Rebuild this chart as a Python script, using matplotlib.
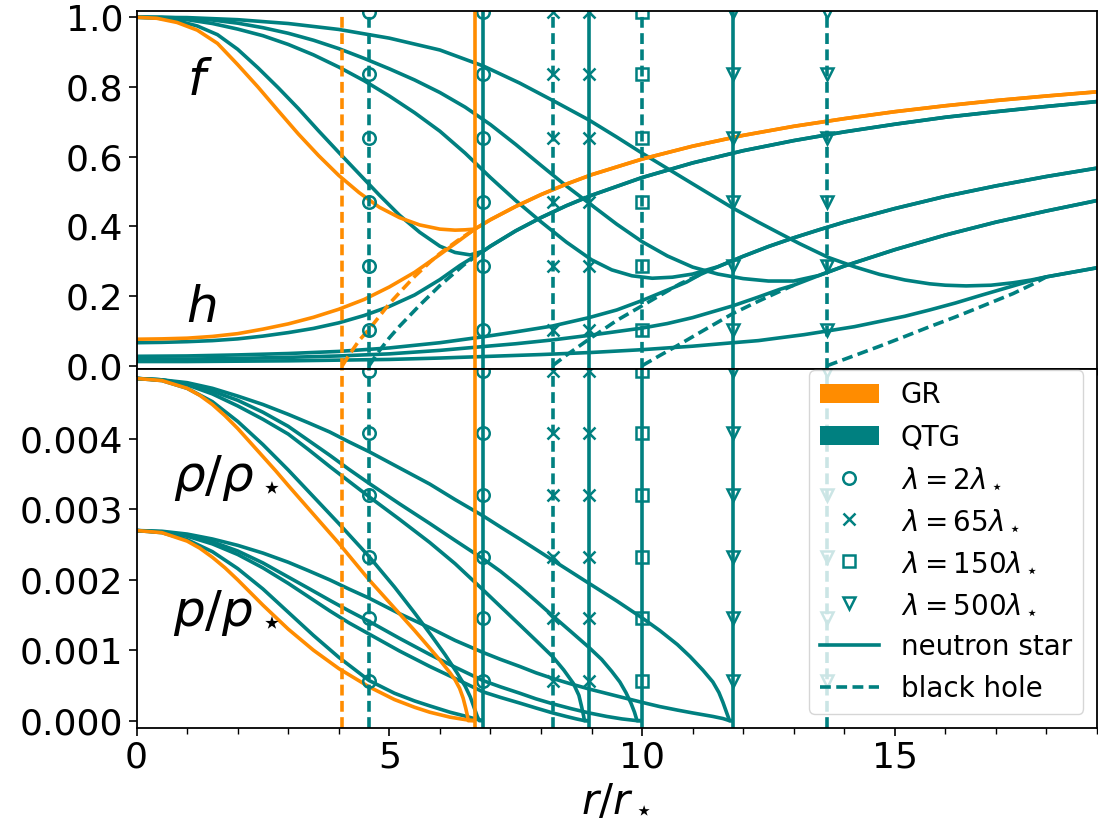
import matplotlib
matplotlib.use("Agg")
import matplotlib.pyplot as plt
from matplotlib.lines import Line2D
from matplotlib.patches import Patch
from matplotlib.ticker import MultipleLocator, FixedLocator

GR_COLOR = "#ff8c00"
QTG_COLOR = "#008080"
LW = 2.6
DASH = (0, (3.0, 1.5))

# ---------------- radii (in units of r_star) ----------------
gr_ns_radius = 6.69
gr_bh_radius = 4.07
qtg_lambda = ["2", "65", "150", "500"]
qtg_markers = ["o", "x", "s", "v"]
qtg_ns_radius = [6.86, 8.95, 10.0, 11.80]
qtg_bh_radius = [4.60, 8.23, 10.0, 13.66]

# ---------------- metric functions f, h (upper panel) ----------------
# GR
gr_f_r = [0, 0.4, 0.8, 1.2, 1.6, 2.0, 2.4, 2.8, 3.2, 3.6, 4.0, 4.4, 4.8, 5.2, 5.6, 6.0, 6.3, 6.5]
gr_f = [1.000, 0.997, 0.985, 0.963, 0.925, 0.864, 0.800, 0.732, 0.665, 0.603, 0.546, 0.497,
        0.455, 0.425, 0.404, 0.392, 0.389, 0.390]
gr_h_r = [0, 0.5, 1.0, 1.5, 2.0, 2.5, 3.0, 3.5, 4.0, 4.5, 5.0, 5.5, 6.0, 6.4]
gr_h = [0.076, 0.077, 0.079, 0.084, 0.092, 0.105, 0.120, 0.139, 0.162, 0.190, 0.226, 0.268, 0.319, 0.361]
gr_out_r = [6.69, 7.0, 7.5, 8.0, 8.5, 9.0, 10.0, 11.0, 12.0, 13.0, 14.0, 15.0, 16.0, 17.0, 18.0, 19.0]
gr_out = [0.392, 0.419, 0.457, 0.491, 0.521, 0.548, 0.593, 0.630, 0.661, 0.687, 0.709, 0.729,
          0.746, 0.761, 0.774, 0.786]
gr_bh_r = [4.07, 4.2, 4.4, 4.62, 5.0, 5.28, 5.5, 5.81, 6.0, 6.34, 6.69]
gr_bh = [0.0, 0.030, 0.072, 0.108, 0.178, 0.222, 0.256, 0.298, 0.322, 0.358, 0.392]

# QTG, lambda = 2
q2_f_r = [0, 0.4, 0.8, 1.2, 1.6, 2.0, 2.4, 2.8, 3.2, 3.6, 4.0, 4.4, 4.8, 5.2, 5.6, 6.0, 6.3, 6.6]
q2_f = [1.000, 0.998, 0.990, 0.975, 0.950, 0.908, 0.855, 0.798, 0.738, 0.674, 0.612, 0.551,
        0.490, 0.432, 0.383, 0.343, 0.325, 0.318]
q2_h_r = [0, 0.5, 1.0, 1.5, 2.0, 2.5, 3.0, 3.5, 4.0, 4.5, 5.0, 5.5, 6.0, 6.4]
q2_h = [0.066, 0.067, 0.069, 0.072, 0.077, 0.085, 0.095, 0.107, 0.123, 0.144, 0.170, 0.203, 0.247, 0.288]
q2_out_r = [6.86, 7.0, 7.5, 8.0, 8.5, 9.0, 10.0, 11.0, 12.0, 13.0, 14.0, 15.0, 16.0, 17.0, 18.0, 19.0]
q2_out = [0.329, 0.343, 0.387, 0.425, 0.459, 0.489, 0.540, 0.582, 0.617, 0.646, 0.671, 0.693,
          0.713, 0.729, 0.744, 0.758]
q2_bh_r = [4.60, 4.75, 5.0, 5.2, 5.61, 6.0, 6.47, 6.86]
q2_bh = [0.0, 0.033, 0.080, 0.113, 0.175, 0.230, 0.289, 0.329]

# QTG, lambda = 65
q65_f_r = [0, 0.5, 1.0, 1.5, 2.0, 2.5, 3.0, 3.5, 4.0, 4.5, 5.0, 5.5, 6.0, 6.5, 7.0, 7.5, 8.0,
           8.5, 9.0, 9.4, 9.8, 10.2, 10.6, 11.0, 11.4]
q65_f = [1.000, 0.999, 0.993, 0.982, 0.966, 0.947, 0.922, 0.892, 0.857, 0.818, 0.774, 0.726,
         0.673, 0.610, 0.540, 0.474, 0.413, 0.355, 0.304, 0.275, 0.258, 0.251, 0.254, 0.263, 0.280]
q65_h_r = [0, 1, 2, 3, 4, 5, 6, 6.86, 7.5, 8.23, 8.95, 9.5, 10.0, 10.5, 10.88]
q65_h = [0.027, 0.028, 0.031, 0.035, 0.041, 0.051, 0.066, 0.083, 0.097, 0.114, 0.138, 0.160,
         0.187, 0.217, 0.240]
q65_out_r = [11.14, 11.5, 12.0, 12.5, 13.0, 13.5, 14.0, 15.0, 16.0, 17.0, 18.0, 19.0]
q65_out = [0.261, 0.284, 0.314, 0.342, 0.367, 0.390, 0.412, 0.451, 0.486, 0.516, 0.543, 0.567]
q65_bh_r = [8.23, 8.5, 8.95, 9.5, 10.0, 10.75, 11.14]
q65_bh = [0.0, 0.030, 0.076, 0.130, 0.172, 0.235, 0.261]

# QTG, lambda = 150
q150_f_r = [0, 0.5, 1.0, 1.5, 2.0, 2.5, 3.0, 3.5, 4.0, 4.5, 5.0, 5.5, 6.0, 6.5, 7.0, 7.5, 8.0,
            8.5, 9.0, 9.5, 10.0, 10.5, 11.0, 11.5, 12.0, 12.5, 13.0]
q150_f = [1.000, 1.000, 0.997, 0.992, 0.983, 0.970, 0.954, 0.934, 0.910, 0.882, 0.852, 0.820,
          0.784, 0.742, 0.692, 0.635, 0.575, 0.516, 0.461, 0.406, 0.356, 0.315, 0.283, 0.263,
          0.250, 0.243, 0.243]
q150_h_r = [0, 1, 2, 3, 4, 5, 6, 6.86, 7.5, 8.23, 9.0, 10.0, 10.5, 11.0, 11.8, 12.3, 12.72]
q150_h = [0.019, 0.019, 0.021, 0.024, 0.028, 0.034, 0.044, 0.055, 0.063, 0.074, 0.088, 0.108,
          0.121, 0.138, 0.172, 0.197, 0.219]
q150_out_r = [13.0, 13.5, 14.0, 15.0, 16.0, 17.0, 18.0, 19.0]
q150_out = [0.231, 0.259, 0.286, 0.333, 0.375, 0.412, 0.444, 0.474]
q150_bh_r = [10.0, 10.3, 10.75, 11.2, 11.8, 12.3, 12.72, 13.0]
q150_bh = [0.0, 0.025, 0.062, 0.100, 0.150, 0.185, 0.213, 0.231]

# QTG, lambda = 500
q500_f_r = [0, 1, 2, 3, 4, 5, 6, 6.86, 7.58, 8.3, 8.95, 9.5, 10.0, 10.5, 11.0, 11.8, 12.3,
            12.72, 13.12, 13.68, 14.2, 14.7, 15.2, 15.69, 16.0, 16.41, 16.9, 17.34, 17.7]
q500_f = [1.000, 0.999, 0.993, 0.982, 0.965, 0.940, 0.906, 0.860, 0.811, 0.756, 0.705, 0.656,
          0.610, 0.566, 0.522, 0.452, 0.412, 0.380, 0.350, 0.311, 0.284, 0.262, 0.246, 0.235,
          0.231, 0.229, 0.231, 0.238, 0.246]
q500_h_r = [0, 1, 2, 3, 4, 5, 6, 7, 8, 9, 10, 11, 11.8, 12.3, 12.72, 13.2, 13.68, 14.2, 14.7,
            15.2, 15.69, 16.2, 16.68, 17.2, 17.6]
q500_h = [0.012, 0.012, 0.013, 0.014, 0.016, 0.018, 0.022, 0.027, 0.032, 0.038, 0.046, 0.056,
          0.066, 0.072, 0.080, 0.089, 0.100, 0.112, 0.127, 0.142, 0.160, 0.180, 0.201, 0.223, 0.240]
q500_out_r = [18.0, 18.5, 19.0]
q500_out = [0.255, 0.268, 0.281]
q500_bh_r = [13.66, 14.2, 14.7, 15.2, 15.69, 16.2, 16.68, 17.34, 17.7, 18.0]
q500_bh = [0.0, 0.029, 0.056, 0.084, 0.112, 0.140, 0.168, 0.207, 0.232, 0.255]

# ---------------- density and pressure (lower panel, in units of 1e-3) ----------------
gr_rho_r = [0, 0.5, 1.0, 1.25, 1.5, 1.75, 2.0, 2.25, 2.5, 2.75, 3.0, 3.5, 4.0, 4.6, 5.1, 5.5,
            5.8, 6.0, 6.2, 6.3, 6.39, 6.46, 6.51, 6.545, 6.56, 6.69]
gr_rho = [4.86, 4.83, 4.72, 4.62, 4.49, 4.33, 4.15, 3.95, 3.75, 3.55, 3.34, 2.93, 2.52, 2.00,
          1.60, 1.28, 1.03, 0.86, 0.68, 0.58, 0.46, 0.32, 0.18, 0.07, 0.0, 0.0]
gr_p_r = [0, 0.5, 1.0, 1.25, 1.5, 1.75, 2.0, 2.5, 3.0, 3.5, 4.0, 4.6, 5.1, 5.5, 5.8, 6.2, 6.5, 6.69]
gr_p = [2.70, 2.67, 2.55, 2.45, 2.32, 2.17, 2.00, 1.64, 1.30, 1.00, 0.74, 0.48, 0.30, 0.19,
        0.12, 0.05, 0.015, 0.0]

q2_rho_r = [0, 0.5, 1.0, 1.5, 2.0, 2.5, 3.0, 3.5, 4.0, 4.6, 5.1, 5.5, 5.8, 6.1, 6.33, 6.5,
            6.6, 6.68, 6.74, 6.78, 6.86]
q2_rho = [4.86, 4.83, 4.72, 4.53, 4.25, 3.92, 3.56, 3.18, 2.80, 2.33, 1.90, 1.53, 1.24, 0.94,
          0.69, 0.49, 0.34, 0.18, 0.06, 0.0, 0.0]
q2_p_r = [0, 0.5, 1.0, 1.5, 2.0, 2.5, 3.0, 3.5, 4.0, 4.6, 5.1, 5.5, 5.8, 6.2, 6.5, 6.7, 6.86]
q2_p = [2.70, 2.67, 2.57, 2.40, 2.16, 1.87, 1.54, 1.21, 0.90, 0.57, 0.39, 0.28, 0.21, 0.12,
        0.065, 0.025, 0.0]

q65_rho_r = [0, 0.5, 1.0, 1.5, 2.0, 2.5, 3.0, 3.4, 3.82, 4.2, 4.6, 5.2, 5.8, 6.3, 6.85, 7.2,
             7.58, 7.9, 8.23, 8.45, 8.64, 8.75, 8.8, 8.84, 8.86, 8.95]
q65_rho = [4.86, 4.84, 4.77, 4.64, 4.47, 4.28, 4.07, 3.85, 3.61, 3.40, 3.18, 2.86, 2.53, 2.23,
           1.86, 1.62, 1.36, 1.14, 0.91, 0.72, 0.53, 0.36, 0.21, 0.08, 0.0, 0.0]
q65_p_r = [0, 0.5, 1.0, 1.5, 2.0, 2.5, 3.0, 3.4, 3.82, 4.2, 4.6, 5.2, 5.8, 6.3, 6.85, 7.2,
           7.58, 7.9, 8.23, 8.5, 8.7, 8.86, 8.95]
q65_p = [2.70, 2.68, 2.62, 2.51, 2.36, 2.17, 1.95, 1.76, 1.56, 1.39, 1.23, 0.99, 0.77, 0.60,
         0.41, 0.33, 0.25, 0.18, 0.11, 0.06, 0.025, 0.0, 0.0]

q150_rho_r = [0, 0.5, 1.0, 1.5, 2.0, 2.5, 3.0, 3.4, 3.82, 4.2, 4.6, 5.2, 5.8, 6.3, 6.85, 7.2,
              7.58, 7.9, 8.23, 8.6, 8.95, 9.2, 9.4, 9.56, 9.68, 9.78, 9.85, 9.9, 10.0]
q150_rho = [4.86, 4.84, 4.78, 4.68, 4.55, 4.38, 4.18, 3.98, 3.77, 3.57, 3.37, 3.08, 2.80, 2.56,
            2.30, 2.12, 1.90, 1.70, 1.49, 1.26, 1.04, 0.87, 0.70, 0.55, 0.40, 0.25, 0.12, 0.0, 0.0]
q150_p_r = [0, 0.5, 1.0, 1.5, 2.0, 2.5, 3.0, 3.4, 3.82, 4.2, 4.6, 5.2, 5.8, 6.3, 6.85, 7.2,
            7.58, 7.9, 8.23, 8.6, 8.95, 9.3, 9.6, 9.9, 10.0]
q150_p = [2.70, 2.68, 2.63, 2.54, 2.41, 2.24, 2.04, 1.88, 1.71, 1.56, 1.41, 1.17, 0.94, 0.76,
          0.57, 0.48, 0.39, 0.31, 0.24, 0.17, 0.11, 0.06, 0.025, 0.0, 0.0]

q500_rho_r = [0, 0.5, 1.0, 1.5, 2.0, 2.5, 3.0, 3.4, 3.82, 4.2, 4.6, 5.2, 5.8, 6.3, 6.85, 7.2,
              7.58, 8.23, 8.95, 9.5, 10.0, 10.35, 10.7, 10.95, 11.2, 11.4, 11.52, 11.6, 11.66,
              11.71, 11.73, 11.8]
q500_rho = [4.86, 4.84, 4.80, 4.72, 4.61, 4.49, 4.35, 4.23, 4.10, 3.96, 3.82, 3.59, 3.36, 3.14,
            2.91, 2.75, 2.58, 2.28, 1.95, 1.70, 1.46, 1.28, 1.08, 0.91, 0.72, 0.55, 0.40, 0.26,
            0.14, 0.04, 0.0, 0.0]
q500_p_r = [0, 0.5, 1.0, 1.5, 2.0, 2.5, 3.0, 3.4, 3.82, 4.2, 4.6, 5.2, 5.8, 6.3, 6.85, 7.2,
            7.58, 7.9, 8.23, 8.6, 8.95, 9.5, 10.0, 10.35, 10.7, 11.0, 11.4, 11.6, 11.73, 11.8]
q500_p = [2.70, 2.69, 2.65, 2.58, 2.49, 2.38, 2.25, 2.13, 2.00, 1.87, 1.74, 1.52, 1.32, 1.14,
          0.97, 0.87, 0.77, 0.68, 0.60, 0.52, 0.45, 0.35, 0.26, 0.20, 0.15, 0.11, 0.06, 0.03,
          0.0, 0.0]

# marker heights along the vertical radius lines
top_mark_y = [0.102, 0.287, 0.469, 0.653, 0.837, 1.016]
bot_mark_y = [0.56, 1.46, 2.33, 3.21, 4.09, 4.96]


def joined(r_in, v_in, r_out, v_out):
    """Interior curve continued by the exterior branch beyond its last radius."""
    r = list(r_in) + [x for x in r_out if x > r_in[-1]]
    v = list(v_in) + [y for x, y in zip(r_out, v_out) if x > r_in[-1]]
    return r, v


def scaled(v):
    return [x * 1e-3 for x in v]


qtg_top = [
    (q2_f_r, q2_f, q2_h_r, q2_h, q2_out_r, q2_out, q2_bh_r, q2_bh),
    (q65_f_r, q65_f, q65_h_r, q65_h, q65_out_r, q65_out, q65_bh_r, q65_bh),
    (q150_f_r, q150_f, q150_h_r, q150_h, q150_out_r, q150_out, q150_bh_r, q150_bh),
    (q500_f_r, q500_f, q500_h_r, q500_h, q500_out_r, q500_out, q500_bh_r, q500_bh),
]
qtg_bot = [
    (q2_rho_r, q2_rho, q2_p_r, q2_p),
    (q65_rho_r, q65_rho, q65_p_r, q65_p),
    (q150_rho_r, q150_rho, q150_p_r, q150_p),
    (q500_rho_r, q500_rho, q500_p_r, q500_p),
]

fig = plt.figure(figsize=(10.98, 8.31), dpi=100)
ax_top = fig.add_axes([0.1244, 0.5556, 0.8747, 0.4312])
ax_bot = fig.add_axes([0.1244, 0.1243, 0.8747, 0.4313], sharex=ax_top)

line_kw = dict(lw=LW, solid_joinstyle="round", solid_capstyle="butt")

# --- upper panel: f and h ---
for fr, fv, hr, hv, outr, outv, bhr, bhv in qtg_top:
    ax_top.plot(*joined(fr, fv, outr, outv), color=QTG_COLOR, **line_kw)
    ax_top.plot(*joined(hr, hv, outr, outv), color=QTG_COLOR, **line_kw)
    ax_top.plot(bhr, bhv, color=QTG_COLOR, lw=LW, ls=DASH)
ax_top.plot(*joined(gr_f_r, gr_f, gr_out_r, gr_out), color=GR_COLOR, **line_kw)
ax_top.plot(*joined(gr_h_r, gr_h, gr_out_r, gr_out), color=GR_COLOR, **line_kw)
ax_top.plot(gr_bh_r, gr_bh, color=GR_COLOR, lw=LW, ls=DASH)

# --- lower panel: density and pressure ---
for rr, rv, pr, pv in qtg_bot:
    ax_bot.plot(rr, scaled(rv), color=QTG_COLOR, **line_kw)
    ax_bot.plot(pr, scaled(pv), color=QTG_COLOR, **line_kw)
ax_bot.plot(gr_rho_r, scaled(gr_rho), color=GR_COLOR, **line_kw)
ax_bot.plot(gr_p_r, scaled(gr_p), color=GR_COLOR, **line_kw)

# --- star surfaces and horizons ---
for ax, is_top, mark_y in ((ax_top, True, top_mark_y), (ax_bot, False, scaled(bot_mark_y))):
    for r_ns, r_bh, mk in zip(qtg_ns_radius, qtg_bh_radius, qtg_markers):
        same = abs(r_ns - r_bh) < 1e-9
        if is_top and same:
            ax.axvline(r_bh, color=QTG_COLOR, lw=LW, ls=DASH)
        elif same:
            ax.axvline(r_ns, color=QTG_COLOR, lw=LW)
        else:
            ax.axvline(r_bh, color=QTG_COLOR, lw=LW, ls=DASH)
            ax.axvline(r_ns, color=QTG_COLOR, lw=LW)
        for xr in sorted({r_ns, r_bh}):
            ax.plot([xr] * len(mark_y), mark_y, ls="none", marker=mk, ms=9, mew=1.8,
                    mfc="none", mec=QTG_COLOR)
    ax.axvline(gr_bh_radius, color=GR_COLOR, lw=LW, ls=DASH)
    ax.axvline(gr_ns_radius, color=GR_COLOR, lw=LW)

# --- labels inside the panels ---
ax_top.text(1.25, 0.817, r"$f$", fontsize=36, ha="center", va="center")
ax_top.text(1.28, 0.167, r"$h$", fontsize=36, ha="center", va="center")
ax_bot.text(1.77, 0.00345, r"$\rho/\rho_\star$", fontsize=36, ha="center", va="center")
ax_bot.text(1.77, 0.00153, r"$p/p_\star$", fontsize=36, ha="center", va="center")

# --- axes formatting ---
ax_top.set_xlim(0, 19)
ax_top.set_ylim(-0.0103, 1.018)
ax_bot.set_ylim(-0.0001, 0.00499)
ax_top.yaxis.set_major_locator(FixedLocator([0.0, 0.2, 0.4, 0.6, 0.8, 1.0]))
ax_bot.yaxis.set_major_locator(FixedLocator([0.0, 0.001, 0.002, 0.003, 0.004]))
ax_bot.yaxis.set_major_formatter(plt.FuncFormatter(lambda v, _: f"{v:.3f}"))
ax_top.yaxis.set_major_formatter(plt.FuncFormatter(lambda v, _: f"{v:.1f}"))
ax_bot.xaxis.set_major_locator(FixedLocator([0, 5, 10, 15]))
ax_bot.xaxis.set_minor_locator(MultipleLocator(1))
ax_top.tick_params(axis="x", which="both", labelbottom=False)
for ax in (ax_top, ax_bot):
    ax.tick_params(which="major", length=6, width=1.2, labelsize=26)
    ax.tick_params(which="minor", length=4, width=1.0)
    for sp in ax.spines.values():
        sp.set_linewidth(1.3)
ax_bot.set_xlabel(r"$r/r_\star$", fontsize=30, labelpad=3)

# --- legend ---
handles = [Patch(facecolor=GR_COLOR, label="GR"),
           Patch(facecolor=QTG_COLOR, label="QTG")]
for lam, mk in zip(qtg_lambda, qtg_markers):
    handles.append(Line2D([], [], ls="none", marker=mk, ms=9, mew=1.8, mfc="none",
                          mec=QTG_COLOR, label=rf"$\lambda={lam}\lambda_\star$"))
handles.append(Line2D([], [], color=QTG_COLOR, lw=LW, label="neutron star"))
handles.append(Line2D([], [], color=QTG_COLOR, lw=LW, ls=DASH, label="black hole"))
ax_bot.legend(handles=handles, loc="lower right", fontsize=20, handlelength=2.1)

fig.savefig("out.png", dpi=100)
